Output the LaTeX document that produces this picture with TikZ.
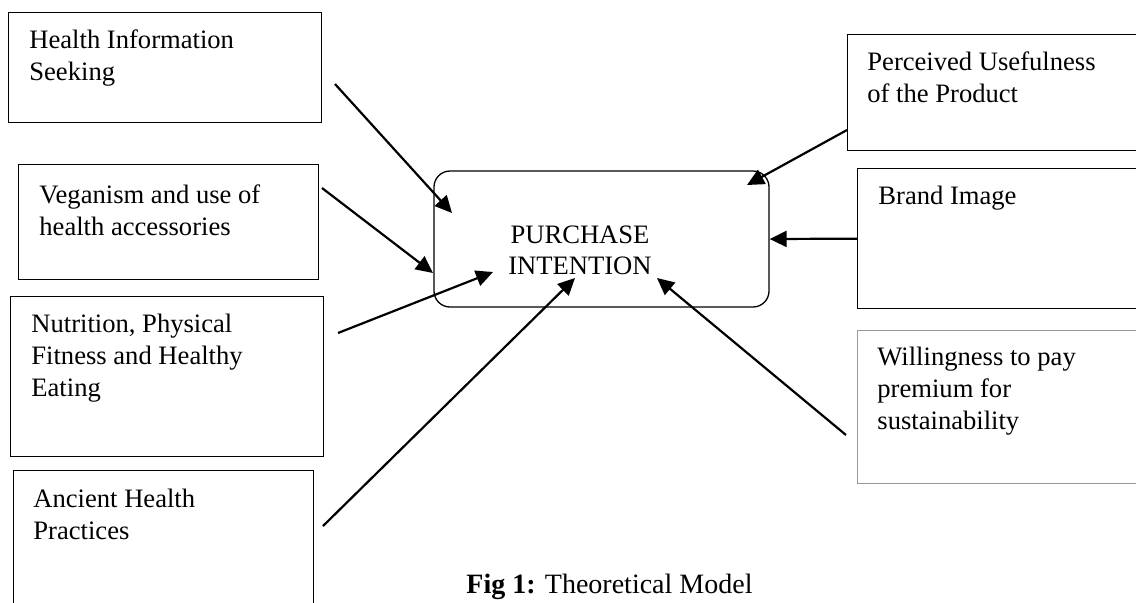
\documentclass[tikz,border=0pt]{standalone}
\usepackage{fontspec}
\setmainfont{Liberation Serif}
\usetikzlibrary{calc}
\usetikzlibrary{arrows.meta}

\tikzset{
  factor/.style={draw, line width=0.65pt, inner sep=0pt, anchor=north west},
  factortext/.style={anchor=base west, align=left, inner sep=0pt, font=\fontsize{13.3}{16}\selectfont},
  link/.style={line width=1.1pt, -{Triangle[length=8.5pt,width=8pt]}}
}

\begin{document}
\begin{tikzpicture}[x=0.5pt, y=-0.5pt]
            % Page frame (pixel units, y pointing down)
            \clip (0,0) rectangle (1136,602);

            % Draw the factor boxes on the left
            \node[factor, minimum width=156.5pt, minimum height=55pt] (his) at (8,12) {};
            \node[factor, minimum width=150pt, minimum height=57.5pt] (veg) at (18,164) {};
            \node[factor, minimum width=156.5pt, minimum height=80pt] (nut) at (10,296) {};
            \node[factor, minimum width=150pt, minimum height=85pt] (anc) at (13,470) {};

            % Draw the factor boxes on the right
            \node[factor, minimum width=151.5pt, minimum height=58pt] (pus) at (847,34) {};
            \node[factor, minimum width=146.5pt, minimum height=70pt] (bri) at (857,168) {};
            \node[factor, draw=gray!80, line width=0.4pt, minimum width=146.5pt, minimum height=76.5pt] (wil) at (857,330) {};

            % Texts of the boxes (base = baseline of the last line, 32 per line)
            \node[factortext] (hisT) at (29,80) {Health Information\\Seeking};
            \node[factortext] (vegT) at (39,235) {Veganism and use of\\health accessories};
            \node[factortext] (nutT) at (31,396) {Nutrition, Physical\\Fitness and Healthy\\Eating};
            \node[factortext] (ancT) at (33,539) {Ancient Health\\Practices};
            \node[factortext] (pusT) at (867,102) {Perceived Usefulness\\of the Product};
            \node[factortext] (briT) at (878,204) {Brand Image};
            \node[factortext] (wilT) at (877,429) {Willingness to pay\\premium for\\sustainability};

            % Draw the central construct
            \node[draw, line width=0.65pt, rounded corners=8pt, inner sep=0pt,
                  minimum width=167.5pt, minimum height=68pt] (pi) at (601.5,239) {};
            \node[anchor=base, align=center, inner sep=0pt, font=\fontsize{13.3}{15.5}\selectfont] (piT) at (580,274) {PURCHASE\\INTENTION};

            % Arrow end points
            \coordinate (hisA) at (335,84);   \coordinate (hisB) at (452,213);
            \coordinate (vegA) at (322,188);  \coordinate (vegB) at (433,273);
            \coordinate (nutA) at (338,333);  \coordinate (nutB) at (493,272);
            \coordinate (ancA) at (323,526);  \coordinate (ancB) at (575,278);
            \coordinate (pusA) at (847,130);  \coordinate (pusB) at (747,185);
            \coordinate (wilA) at (846,435);  \coordinate (wilB) at (657,278);

            % Draw the arrows
            \draw[link] (hisA) -- (hisB);
            \draw[link] (vegA) -- (vegB);
            \draw[link] (nutA) -- (nutB);
            \draw[link] (ancA) -- (ancB);
            \draw[link] (pusA) -- (pusB);
            \draw[link] (bri.west) -- (pi.east);
            \draw[link] (wilA) -- (wilB);

            % Caption
            \node[anchor=base west, inner sep=0pt, font=\fontsize{14}{16}\selectfont] (cap) at (466,593) {\textbf{Fig 1:} Theoretical Model};
\end{tikzpicture}
\end{document}
